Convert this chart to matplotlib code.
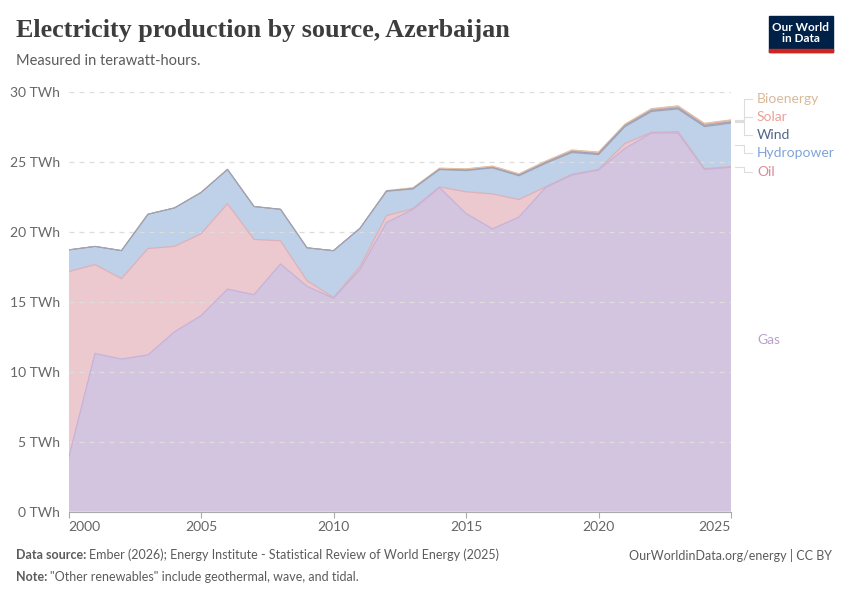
import matplotlib.pyplot as plt
from matplotlib.patches import Rectangle

years = list(range(2000, 2026))
gas = [3.8, 11.3, 10.9, 11.2, 12.85, 14.0, 15.9, 15.5, 17.7, 16.1, 15.25, 17.3, 20.65,
       21.6, 23.15, 21.3, 20.2, 21.05, 23.15, 24.05, 24.4, 25.95, 27.05, 27.05, 24.45, 24.6]
oil = [13.35, 6.35, 5.75, 7.6, 6.1, 5.85, 6.1, 3.95, 1.65, 0.4, 0.05, 0.2, 0.5,
       0.05, 0.05, 1.55, 2.5, 1.25, 0.05, 0.05, 0.05, 0.35, 0.05, 0.1, 0.05, 0.05]
hydro = [1.55, 1.3, 2.0, 2.45, 2.75, 2.95, 2.45, 2.35, 2.25, 2.35, 3.34, 2.74, 1.74,
         1.41, 1.24, 1.52, 1.86, 1.7, 1.68, 1.56, 1.06, 1.21, 1.49, 1.62, 3.01, 3.11]
wind = [0, 0, 0, 0, 0, 0, 0, 0, 0, 0, 0.01, 0.01, 0.01,
        0.02, 0.02, 0.03, 0.03, 0.04, 0.06, 0.07, 0.07, 0.07, 0.08, 0.08, 0.09, 0.09]
solar = [0, 0, 0, 0, 0, 0, 0, 0, 0, 0, 0, 0, 0,
         0, 0.01, 0.02, 0.03, 0.03, 0.03, 0.04, 0.04, 0.04, 0.05, 0.06, 0.07, 0.07]
bio = [0, 0, 0, 0, 0, 0, 0, 0, 0, 0, 0, 0, 0.05,
       0.07, 0.08, 0.08, 0.08, 0.08, 0.08, 0.08, 0.08, 0.08, 0.08, 0.09, 0.08, 0.08]

names = ["Gas", "Oil", "Hydropower", "Wind", "Solar", "Bioenergy"]
series = [gas, oil, hydro, wind, solar, bio]
fills = ["#d3c5df", "#ebc9cf", "#bed1e8", "#a9b6d0", "#f0c2b6", "#e6ccb6"]
edges = ["#c6b2d8", "#deb0ba", "#a0a4b2", "#8c9cbc", "#e8aa9c", "#dcbca0"]
label_cols = ["#b9a1cd", "#dc8a98", "#7ea3d8", "#4e6689", "#eba196", "#d9b99b"]
label_y = [12.3, 24.25, 25.6, 26.9, 28.2, 29.5]

plt.rcParams['font.family'] = ['Lato', 'DejaVu Sans']

fig = plt.figure(figsize=(8.5, 6), dpi=100)
ax = fig.add_axes([68.5 / 850, 1 - 511.7 / 600, (731 - 68.5) / 850, 420 / 600])

ax.stackplot(years, *series, colors=fills, linewidth=0, zorder=2)
tops = []
base = [0] * len(years)
for vals in series:
    base = [b + v for b, v in zip(base, vals)]
    tops.append(base)
# draw edges from the top layer down so hydro's grey line wins where thin layers are empty
for i in reversed(range(len(series))):
    lw = 0.6 if i >= 3 else 0.9
    ax.plot(years, tops[i], color=edges[i], lw=lw, zorder=3)

ax.set_xlim(2000, 2025)
ax.set_ylim(0, 30)
ax.set_yticks([0, 5, 10, 15, 20, 25, 30])
ax.set_yticklabels([f"{v} TWh" for v in [0, 5, 10, 15, 20, 25, 30]])
ax.set_xticks([2000, 2005, 2010, 2015, 2020, 2025])
ax.set_xticklabels(["2000", "2005", "2010", "2015", "2020", "2025"])
xl = ax.get_xticklabels()
xl[0].set_ha('left')
xl[-1].set_ha('right')
ax.grid(axis='y', color='#dddddd', lw=0.9, linestyle=(0, (4, 4)), zorder=5)
ax.set_axisbelow(False)
for s in ['top', 'right', 'left']:
    ax.spines[s].set_visible(False)
ax.spines['bottom'].set_color('#aaaaaa')
ax.tick_params(axis='y', length=0, pad=6, labelsize=10, labelcolor='#666666')
ax.tick_params(axis='x', length=4, color='#aaaaaa', pad=3, labelsize=10, labelcolor='#666666')

# right side labels with connectors
ends = []
acc = 0
for vals in series:
    ends.append(acc + vals[-1] / 2)
    acc += vals[-1]
for i, name in enumerate(names):
    y0 = ends[i]
    y1 = label_y[i]
    if name != "Gas":
        ax.plot([2025.15, 2025.5, 2025.5, 2025.8], [y0, y0, y1, y1], color='#dddddd',
                lw=0.8, clip_on=False)
    ax.text(2025.98, y1, name, color=label_cols[i], fontsize=10, va='center', ha='left')

fig.text(16 / 850, 1 - 31 / 600, "Electricity production by source, Azerbaijan",
         family=['Liberation Serif', 'DejaVu Serif'], fontsize=18.8, weight='bold',
         color='#3d3d3d', va='center', ha='left')
fig.text(16 / 850, 1 - 61 / 600, "Measured in terawatt-hours.", fontsize=10.5,
         color='#5b5b5b', va='center', ha='left')

# logo
fig.patches.append(Rectangle((769 / 850, 1 - 52 / 600), 64 / 850, 36 / 600,
                             transform=fig.transFigure, color='#002147'))
fig.patches.append(Rectangle((769 / 850, 1 - 52 / 600), 64 / 850, 3 / 600,
                             transform=fig.transFigure, color='#ce261e'))
fig.text(801 / 850, 1 - 33 / 600, "Our World\nin Data", color='white', fontsize=8.5,
         weight='bold', ha='center', va='center', linespacing=1.0)

# footer
r = fig.canvas.get_renderer()
t1 = fig.text(16 / 850, 1 - 555 / 600, "Data source:", fontsize=9, weight='bold',
              color='#5b5b5b', va='center', ha='left')
w1 = t1.get_window_extent(r).width
fig.text((16 + w1 + 3) / 850, 1 - 555 / 600,
         "Ember (2026); Energy Institute - Statistical Review of World Energy (2025)",
         fontsize=9, color='#5b5b5b', va='center', ha='left')
t2 = fig.text(16 / 850, 1 - 577 / 600, "Note:", fontsize=9, weight='bold',
              color='#5b5b5b', va='center', ha='left')
w2 = t2.get_window_extent(r).width
fig.text((16 + w2 + 3) / 850, 1 - 577 / 600,
         "\"Other renewables\" include geothermal, wave, and tidal.",
         fontsize=9, color='#5b5b5b', va='center', ha='left')
fig.text(832 / 850, 1 - 555 / 600, "OurWorldinData.org/energy | CC BY", fontsize=9,
         color='#5b5b5b', va='center', ha='right')

fig.savefig("out.png", dpi=100)
